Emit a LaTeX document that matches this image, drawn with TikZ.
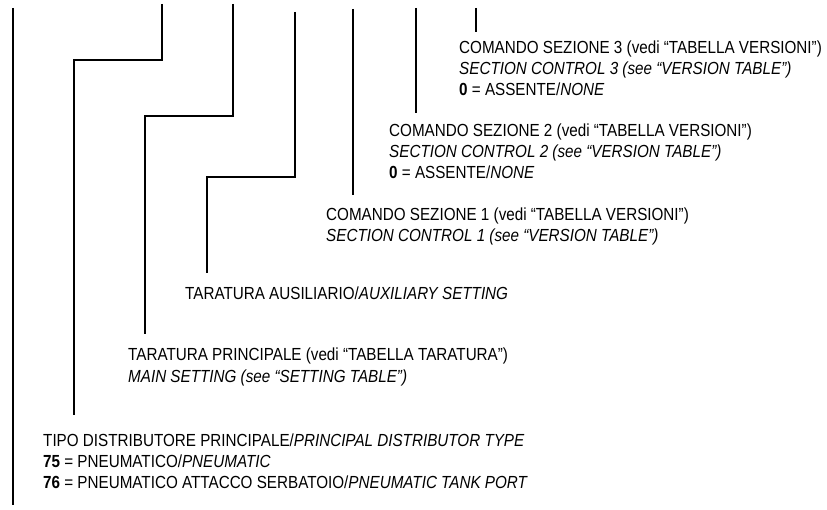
\documentclass[tikz,border=0pt]{standalone}
\usepackage{fontspec}
\setmainfont{Liberation Sans}[FakeStretch=0.87]
\begin{document}
\begin{tikzpicture}[x=1pt,y=-1pt,
  ln/.style={line width=2.2pt},
  lnthick/.style={line width=2.7pt},
  lbl/.style={anchor=base west, inner sep=0pt, font=\fontsize{17.5}{21}\selectfont}]
\useasboundingbox (0,0) rectangle (827,510);

% text lines
\node[lbl] (s3a) at (459,54) {COMANDO SEZIONE 3 (vedi “TABELLA VERSIONI”)};
\node[lbl] (s3b) at (459,75) {\textit{SECTION CONTROL 3 (see “VERSION TABLE”)}};
\node[lbl] (s3c) at (459,96) {\textbf{0} = ASSENTE/\textit{NONE}};

\node[lbl] (s2a) at (389,137) {COMANDO SEZIONE 2 (vedi “TABELLA VERSIONI”)};
\node[lbl] (s2b) at (389,158) {\textit{SECTION CONTROL 2 (see “VERSION TABLE”)}};
\node[lbl] (s2c) at (389,179) {\textbf{0} = ASSENTE/\textit{NONE}};

\node[lbl] (s1a) at (326,221) {COMANDO SEZIONE 1 (vedi “TABELLA VERSIONI”)};
\node[lbl] (s1b) at (326,242) {\textit{SECTION CONTROL 1 (see “VERSION TABLE”)}};

\node[lbl] (aux) at (185,300) {TARATURA AUSILIARIO/\textit{AUXILIARY SETTING}};

\node[lbl] (pra) at (128,361) {TARATURA PRINCIPALE (vedi “TABELLA TARATURA”)};
\node[lbl] (prb) at (128,382) {\textit{MAIN SETTING (see “SETTING TABLE”)}};

\node[lbl] (tpa) at (43,446) {TIPO DISTRIBUTORE PRINCIPALE/\textit{PRINCIPAL DISTRIBUTOR TYPE}};
\node[lbl] (tpb) at (43,467) {\textbf{75} = PNEUMATICO/\textit{PNEUMATIC}};
\node[lbl] (tpc) at (43,488) {\textbf{76} = PNEUMATICO ATTACCO SERBATOIO/\textit{PNEUMATIC TANK PORT}};

% connector coordinates
\coordinate (a0) at (13,8);   \coordinate (a1) at (13,505);
\coordinate (b0) at (162,4);  \coordinate (b1) at (74,60);  \coordinate (b2) at (74,415);
\coordinate (c0) at (233,4);  \coordinate (c1) at (145,116); \coordinate (c2) at (145,334);
\coordinate (d0) at (295,12); \coordinate (d1) at (207,177); \coordinate (d2) at (207,273);
\coordinate (e0) at (353,9);  \coordinate (e1) at (353,195);
\coordinate (f0) at (416,8);  \coordinate (f1) at (416,113);
\coordinate (g0) at (476,8);  \coordinate (g1) at (476,32);

\draw[lnthick] (a0) -- (a1);
\draw[ln] (b0) |- (b1) -- (b2);
\draw[ln] (c0) |- (c1) -- (c2);
\draw[ln] (d0) |- (d1) -- (d2);
\draw[ln] (e0) -- (e1);
\draw[lnthick] (f0) -- (f1);
\draw[lnthick] (g0) -- (g1);
\end{tikzpicture}
\end{document}
